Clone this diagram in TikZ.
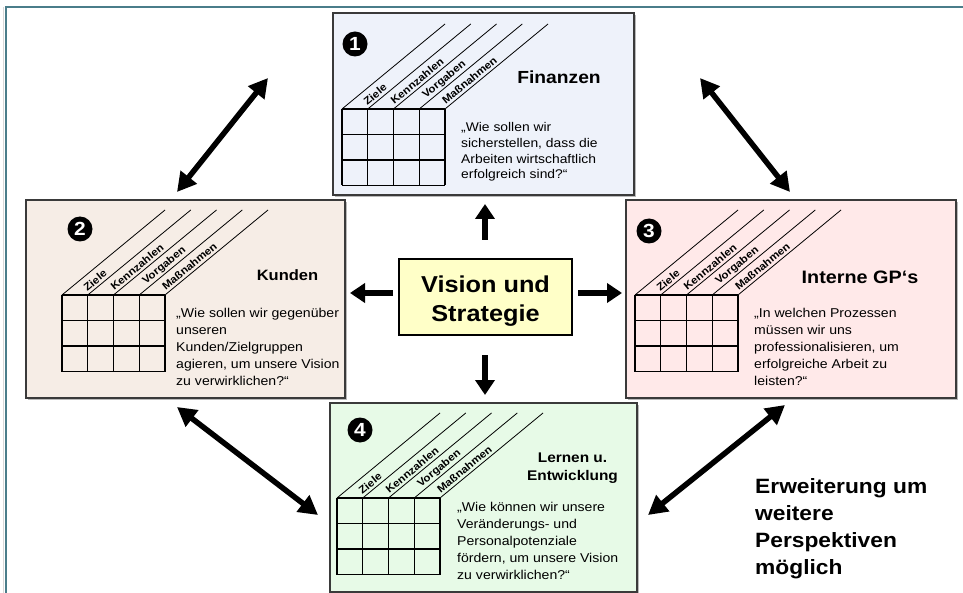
\documentclass[tikz,border=0pt]{standalone}
\usepackage{fontspec}
\setmainfont{Liberation Sans}[FakeStretch=1.1]
\usetikzlibrary{arrows.meta,calc,shadows}
\definecolor{frameteal}{HTML}{4A7D8A}
\definecolor{finblue}{HTML}{EEF2FA}
\definecolor{kundbeige}{HTML}{F6EDE6}
\definecolor{intpink}{HTML}{FFE9E9}
\definecolor{lerngreen}{HTML}{E7FAE7}
\definecolor{visyellow}{HTML}{FFFFC8}
\definecolor{boxborder}{HTML}{3A3A3A}
\newcommand\fsz[2]{\fontsize{#1}{#2}\selectfont}
\newcommand\ltab[1]{\begin{tabular}[t]{@{}l@{}}#1\end{tabular}}
\newcommand\ctab[1]{\begin{tabular}[t]{@{}c@{}}#1\end{tabular}}
\tikzset{
  persp/.style={draw=boxborder, line width=1.2pt, inner sep=0pt,
    drop shadow={shadow xshift=2pt, shadow yshift=-2pt, opacity=1, fill=gray!55}},
  gridline/.style={draw=black, line width=1.3pt},
  diagline/.style={draw=black, line width=0.8pt},
  collabel/.style={font=\fsz{10.5}{11}\bfseries, rotate=39.5, inner sep=0pt},
  numdot/.style={circle, fill=black, text=white, inner sep=0pt, minimum size=25pt,
    font=\fsz{19}{19}\bfseries},
  qtext/.style={anchor=base west, inner sep=0pt, font=\fsz{12.8}{17}},
  ttext/.style={anchor=base, inner sep=0pt},
  dbl/.style={line width=5.5pt,
    {Triangle[length=19pt,width=20pt]}-{Triangle[length=19pt,width=20pt]}},
  sgl/.style={line width=5.5pt, -{Triangle[length=15pt,width=19pt]}},
}
\newcommand\bscgrid[3]{%
  \foreach \i in {0,...,4}{
    \draw[gridline] (#2+25.75*\i,#3) -- (#2+25.75*\i,#3+76.5);
    \draw[diagline] (#2+25.75*\i,#3) -- ++(103,-85);
  }
  \foreach \j in {0,...,3}
    \draw[gridline] (#2,#3+25.5*\j) -- (#2+103,#3+25.5*\j);
  \foreach \t/\a [count=\c from 0] in {Ziele/25,Kennzahlen/46,Vorgaben/48,Maßnahmen/47}
    \node[collabel] (#1-\c) at (#2+25.75*\c+12.875+0.771*\a+1, #3-0.636*\a+1.2) {\t};
}
\begin{document}
\begin{tikzpicture}[x=1pt,y=-1pt]
\useasboundingbox (0,0) rectangle (963,593);
% frame
\draw[gray!30, line width=1pt] (3.5,7) -- (3.5,593);
\draw[frameteal, line width=2pt] (5,7.5) -- (963,7.5);
\draw[frameteal, line width=2pt] (5.5,7) -- (5.5,593);

% boxes
\node[persp, fill=finblue, minimum width=301pt, minimum height=182pt] (fin) at (483.5,104) {};
\node[persp, fill=kundbeige, minimum width=319pt, minimum height=198pt] (kun) at (185.5,299) {};
\node[persp, fill=intpink, minimum width=330pt, minimum height=198pt] (int) at (791,299) {};
\node[persp, fill=lerngreen, minimum width=307pt, minimum height=189pt] (ler) at (483.5,497.5) {};
\node[draw=black, line width=2pt, fill=visyellow, minimum width=173pt, minimum height=76pt] (vis) at (485.5,297) {};

% Finanzen
\node[numdot] (n1) at (355,44) {1};
\bscgrid{f}{342}{109}
\node[ttext, font=\fsz{17.5}{20}\bfseries] (ft) at (559,83.3) {Finanzen};
\node[qtext, font=\fsz{12.6}{15.7}] (fq) at (461,131.7) {\ltab{„Wie sollen wir\\sicherstellen, dass die\\Arbeiten wirtschaftlich\\erfolgreich sind?“}};

% Kunden
\node[numdot] (n2) at (80,229) {2};
\bscgrid{k}{62}{295}
\node[ttext, font=\fsz{15}{18}\bfseries] (kt) at (287.5,280.7) {Kunden};
\node[qtext] (kq) at (176,317.7) {\ltab{„Wie sollen wir gegenüber\\unseren\\Kunden/Zielgruppen\\agieren, um unsere Vision\\zu verwirklichen?“}};

% Interne GP's
\node[numdot] (n3) at (649,231) {3};
\bscgrid{g}{635}{295}
\node[ttext, font=\fsz{18}{20}\bfseries] (gt) at (860,284) {Interne GP‘s};
\node[qtext] (gq) at (754,317.7) {\ltab{„In welchen Prozessen\\müssen wir uns\\professionalisieren, um\\erfolgreiche Arbeit zu\\leisten?“}};

% Lernen
\node[numdot] (n4) at (360,430) {4};
\bscgrid{l}{337}{498}
\node[ttext, font=\fsz{14}{18}\bfseries] (lt) at (572.5,462.7) {\ctab{Lernen u.\\Entwicklung}};
\node[qtext] (lq) at (457,511.7) {\ltab{„Wie können wir unsere\\Veränderungs- und\\Personalpotenziale\\fördern, um unsere Vision\\zu verwirklichen?“}};

% Vision text
\node[ttext, font=\fsz{23}{29}\bfseries] (vt) at (485.5,292.7) {\ctab{Vision und\\Strategie}};

% Erweiterung
\node[anchor=base west, inner sep=0pt, font=\fsz{20.7}{27}\bfseries] (erw) at (755,493.3)
  {\ltab{Erweiterung um\\weitere\\Perspektiven\\möglich}};

% arrow end points
\coordinate (a1) at (268,78);  \coordinate (a2) at (177,192);
\coordinate (b1) at (700,78);  \coordinate (b2) at (790,192);
\coordinate (c1) at (177,407); \coordinate (c2) at (318,515);
\coordinate (d1) at (785,405); \coordinate (d2) at (648,515);
\draw[dbl] (a1) -- (a2);
\draw[dbl] (b1) -- (b2);
\draw[dbl] (c1) -- (c2);
\draw[dbl] (d1) -- (d2);

\coordinate (vu) at (485,240); \coordinate (vut) at (485,204);
\coordinate (vl) at (393,293); \coordinate (vlt) at (350,293);
\coordinate (vr) at (578,293); \coordinate (vrt) at (622,293);
\coordinate (vd) at (485,355); \coordinate (vdt) at (485,395);
\draw[sgl] (vu) -- (vut);
\draw[sgl] (vl) -- (vlt);
\draw[sgl] (vr) -- (vrt);
\draw[sgl] (vd) -- (vdt);
\end{tikzpicture}
\end{document}
